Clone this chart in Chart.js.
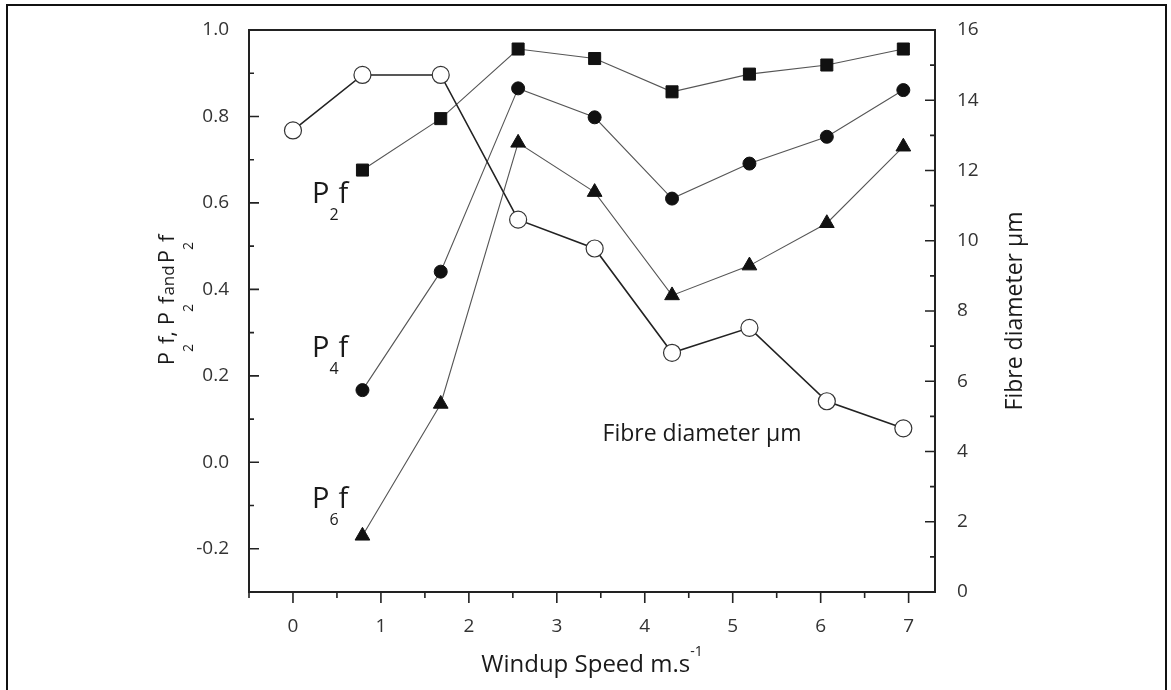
<!DOCTYPE html>
<html>
<head>
<meta charset="utf-8">
<title>Orientation factors vs windup speed</title>
<script src="https://cdn.jsdelivr.net/npm/chart.js@4.4.0/dist/chart.umd.min.js"></script>
<style>
  html, body { margin: 0; padding: 0; background: #fff; }
  #wrap { position: relative; width: 1171px; height: 690px; overflow: hidden; }
  #frame { position: absolute; left: 6px; top: 4px; width: 1157px; height: 720px; border: 2px solid #111; }
  #chart { position: absolute; left: 0; top: 0; }
</style>
</head>
<body>
<div id="wrap">
  <div id="frame"></div>
  <canvas id="chart" width="1171" height="690"></canvas>
</div>
<script>
// windup speed (m/s) for each sample
var speed = [0, 0.79, 1.68, 2.56, 3.43, 4.31, 5.19, 6.07, 6.94];
// orientation factors (left axis), no value at speed 0
var p2f = [null, 0.676, 0.795, 0.956, 0.934, 0.857, 0.898, 0.919, 0.956];
var p4f = [null, 0.167, 0.441, 0.865, 0.798, 0.610, 0.691, 0.753, 0.861];
var p6f = [null, -0.170, 0.135, 0.739, 0.625, 0.386, 0.455, 0.553, 0.730];
// fibre diameter in µm (right axis)
var fibreDiameter = [13.14, 14.72, 14.72, 10.60, 9.78, 6.81, 7.52, 5.43, 4.66];

var xTicks = [0, 1, 2, 3, 4, 5, 6, 7];
var yTicks = [-0.2, 0.0, 0.2, 0.4, 0.6, 0.8, 1.0];
var y2Ticks = [0, 2, 4, 6, 8, 10, 12, 14, 16];

var FONT = 'Open Sans';

function pts(ys){
  return speed.map(function(x, i){ return { x: x, y: ys[i] }; })
              .filter(function(p){ return p.y !== null; });
}

function minorOf(ticks, min, max){
  var step = ticks[1] - ticks[0], out = [];
  [ticks[0] - step / 2].concat(ticks.map(function(t){ return t + step / 2; })).forEach(function(v){
    if (v >= min - 1e-9 && v <= max + 1e-9) out.push(v);
  });
  return out;
}

// draws text runs one after another, sub = lowered small text
function drawRuns(ctx, runs, x, y){
  runs.forEach(function(r){
    ctx.font = r.size + 'px "' + FONT + '"';
    ctx.fillText(r.t, x, y + (r.dy || 0));
    x += ctx.measureText(r.t).width + (r.gap || 0);
  });
}
function runsWidth(ctx, runs){
  var w = 0;
  runs.forEach(function(r){
    ctx.font = r.size + 'px "' + FONT + '"';
    w += ctx.measureText(r.t).width + (r.gap || 0);
  });
  return w;
}

var axisDecor = {
  id: 'axisDecor',
  afterDraw: function(chart){
    var ctx = chart.ctx, a = chart.chartArea;
    var sx = chart.scales.x, sy = chart.scales.y, sy2 = chart.scales.y2;
    ctx.save();

    // plot frame
    ctx.strokeStyle = '#222';
    ctx.lineWidth = 2;
    ctx.strokeRect(a.left, a.top, a.right - a.left, a.bottom - a.top);

    // tick marks: x outward, left and right inward
    ctx.lineWidth = 1.6;
    ctx.beginPath();
    xTicks.forEach(function(v){ var p = sx.getPixelForValue(v); ctx.moveTo(p, a.bottom); ctx.lineTo(p, a.bottom + 11); });
    minorOf(xTicks, sx.min, sx.max).forEach(function(v){ var p = sx.getPixelForValue(v); ctx.moveTo(p, a.bottom); ctx.lineTo(p, a.bottom + 6); });
    yTicks.forEach(function(v){ var p = sy.getPixelForValue(v); ctx.moveTo(a.left, p); ctx.lineTo(a.left + 10, p); });
    minorOf(yTicks, sy.min, sy.max).forEach(function(v){ var p = sy.getPixelForValue(v); ctx.moveTo(a.left, p); ctx.lineTo(a.left + 5, p); });
    y2Ticks.forEach(function(v){ var p = sy2.getPixelForValue(v); ctx.moveTo(a.right, p); ctx.lineTo(a.right - 10, p); });
    minorOf(y2Ticks, sy2.min, sy2.max).forEach(function(v){ var p = sy2.getPixelForValue(v); ctx.moveTo(a.right, p); ctx.lineTo(a.right - 5, p); });
    ctx.stroke();

    ctx.fillStyle = '#1a1a1a';
    ctx.textBaseline = 'alphabetic';
    ctx.textAlign = 'left';

    // series labels inside the plot
    [['2', 0.216, 0.599], ['4', 0.216, 0.243], ['6', 0.216, -0.105]].forEach(function(l){
      drawRuns(ctx, [
        { t: 'P', size: 29 },
        { t: l[0], size: 16, dy: 17 },
        { t: 'f', size: 29 }
      ], sx.getPixelForValue(l[1]), sy.getPixelForValue(l[2]));
    });
    ctx.font = '23px "' + FONT + '"';
    ctx.fillText('Fibre diameter µm', sx.getPixelForValue(3.52), sy2.getPixelForValue(4.3));

    // bottom title with superscript
    var bt = [{ t: 'Windup Speed m.s', size: 24 }, { t: '-1', size: 14, dy: -16 }];
    drawRuns(ctx, bt, (a.left + a.right) / 2 - runsWidth(ctx, bt) / 2, 672);

    // left title, rotated
    var lt = [
      { t: 'P', size: 22 }, { t: '2', size: 14, dy: 19 }, { t: 'f, P', size: 22 },
      { t: '2', size: 14, dy: 19 }, { t: 'f', size: 22, gap: 1 }, { t: 'and', size: 17, gap: 2 },
      { t: 'P', size: 22 }, { t: '2', size: 14, dy: 19 }, { t: 'f', size: 22 }
    ];
    ctx.save();
    ctx.translate(174, 300);
    ctx.rotate(-Math.PI / 2);
    drawRuns(ctx, lt, -runsWidth(ctx, lt) / 2, 0);
    ctx.restore();

    // right title, rotated
    ctx.save();
    ctx.translate(1022, (a.top + a.bottom) / 2);
    ctx.rotate(-Math.PI / 2);
    ctx.textAlign = 'center';
    ctx.font = '23px "' + FONT + '"';
    ctx.fillText('Fibre diameter µm', 0, 0);
    ctx.restore();

    ctx.restore();
  }
};

var tickFont = { family: FONT, size: 19 };

var chart = new Chart(document.getElementById('chart').getContext('2d'), {
  type: 'scatter',
  data: {
    datasets: [{
      label: 'Fibre diameter',
      data: pts(fibreDiameter),
      yAxisID: 'y2',
      showLine: true,
      borderColor: '#222',
      borderWidth: 1.6,
      pointStyle: 'circle',
      pointRadius: 8.5,
      pointBackgroundColor: '#fff',
      pointBorderColor: '#333',
      pointBorderWidth: 1.2
    }, {
      label: 'P2f',
      data: pts(p2f),
      yAxisID: 'y',
      showLine: true,
      borderColor: '#555',
      borderWidth: 1.1,
      pointStyle: 'rect',
      pointRadius: 8.5,
      pointBackgroundColor: '#111',
      pointBorderColor: '#111',
      pointBorderWidth: 1
    }, {
      label: 'P4f',
      data: pts(p4f),
      yAxisID: 'y',
      showLine: true,
      borderColor: '#555',
      borderWidth: 1.1,
      pointStyle: 'circle',
      pointRadius: 6.5,
      pointBackgroundColor: '#111',
      pointBorderColor: '#111',
      pointBorderWidth: 1
    }, {
      label: 'P6f',
      data: pts(p6f),
      yAxisID: 'y',
      showLine: true,
      borderColor: '#555',
      borderWidth: 1.1,
      pointStyle: 'triangle',
      pointRadius: 8.5,
      pointBackgroundColor: '#111',
      pointBorderColor: '#111',
      pointBorderWidth: 1
    }]
  },
  options: {
    responsive: false,
    animation: false,
    layout: { padding: { top: 30, left: 0, right: 0, bottom: 0 } },
    plugins: { legend: { display: false }, tooltip: { enabled: false } },
    scales: {
      x: {
        type: 'linear', position: 'bottom', min: -0.5, max: 7.3,
        grid: { display: false }, border: { display: false },
        afterBuildTicks: function(s){ s.ticks = xTicks.map(function(v){ return { value: v }; }); },
        afterFit: function(s){ s.height = 98; },
        ticks: { padding: 15, color: '#333', font: tickFont, maxRotation: 0, autoSkip: false,
                 callback: function(v){ return String(v); } }
      },
      y: {
        type: 'linear', position: 'left', min: -0.3, max: 1.0,
        grid: { display: false }, border: { display: false },
        afterBuildTicks: function(s){ s.ticks = yTicks.map(function(v){ return { value: v }; }); },
        afterFit: function(s){ s.width = 249; },
        ticks: { padding: 12, color: '#333', font: tickFont, autoSkip: false,
                 callback: function(v){ return v.toFixed(1); } }
      },
      y2: {
        type: 'linear', position: 'right', min: 0, max: 16,
        grid: { display: false }, border: { display: false },
        afterBuildTicks: function(s){ s.ticks = y2Ticks.map(function(v){ return { value: v }; }); },
        afterFit: function(s){ s.width = 236; },
        ticks: { padding: 14, color: '#333', font: tickFont, autoSkip: false,
                 callback: function(v){ return String(v); } }
      }
    }
  },
  plugins: [axisDecor]
});
</script>
</body>
</html>
